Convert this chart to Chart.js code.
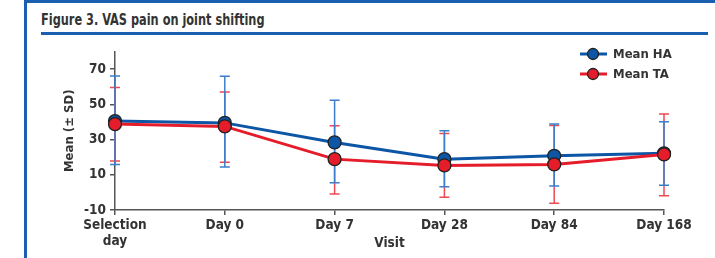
<!DOCTYPE html>
<html><head><meta charset="utf-8">
<script src="https://cdn.jsdelivr.net/npm/chart.js@4.4.1/dist/chart.umd.min.js"></script>
<style>
html,body{margin:0;padding:0;background:#fff;width:715px;height:258px;overflow:hidden;position:relative;}
#lborder{position:absolute;left:24px;top:0;width:2.5px;height:258px;background:#1b5fb0;}
#tborder{position:absolute;left:24px;top:0;width:691px;height:2.5px;background:#1b5fb0;}
#title{position:absolute;left:41px;top:11px;font-family:"Liberation Sans Narrow","DejaVu Sans Condensed",sans-serif;font-weight:bold;font-size:15px;color:#333;transform:scaleX(0.84);transform-origin:left top;white-space:nowrap;}
#uline{position:absolute;left:41px;top:32px;width:667px;height:2.5px;background:#1b5fb0;}
#wrap{position:absolute;left:30px;top:36px;width:685px;height:222px;}
</style></head><body>
<div id="lborder"></div><div id="tborder"></div>
<div id="title">Figure 3. VAS pain on joint shifting</div>
<div id="uline"></div>
<div id="wrap"><canvas id="c" width="685" height="222"></canvas></div>
<script>
const categories = [["Selection","day"], "Day 0", "Day 7", "Day 28", "Day 84", "Day 168"];
const haMean = [40.5, 39.5, 28.4, 18.9, 20.8, 22.2];
const haHigh = [66.2, 66.0, 52.4, 35.0, 38.8, 40.1];
const haLow  = [15.9, 14.4, 5.5, 3.2, 3.6, 4.0];
const taMean = [38.8, 37.5, 18.9, 15.3, 15.9, 21.6];
const taHigh = [59.6, 57.0, 37.8, 33.5, 38.0, 44.6];
const taLow  = [17.8, 17.2, -0.9, -2.8, -6.2, -1.9];
const yTicks = [-10, 10, 30, 50, 70];

const FONT = '"Liberation Sans Narrow","DejaVu Sans Condensed",sans-serif';
const BLUE = '#0d55a5', RED = '#e51d2a';
const BLUE_E = '#3b7fcc', RED_E = '#ee4a52';

const errPlugin = {
  id: 'errbars',
  beforeDatasetsDraw(chart) {
    const ctx = chart.ctx, x = chart.scales.x, y = chart.scales.y;
    const sets = [[taLow, taHigh, RED_E], [haLow, haHigh, BLUE_E]];
    ctx.save();
    ctx.lineWidth = 1.5;
    sets.forEach(([lo, hi, col]) => {
      ctx.strokeStyle = col;
      lo.forEach((v, i) => {
        const px = x.getPixelForValue(i);
        const y1 = y.getPixelForValue(v), y2 = y.getPixelForValue(hi[i]);
        ctx.beginPath();
        ctx.moveTo(px, y1); ctx.lineTo(px, y2);
        ctx.moveTo(px - 5, y1); ctx.lineTo(px + 5, y1);
        ctx.moveTo(px - 5, y2); ctx.lineTo(px + 5, y2);
        ctx.stroke();
      });
    });
    ctx.restore();
  },
  afterDraw(chart) {
    const ctx = chart.ctx;
    const items = [['Mean HA', BLUE, 18], ['Mean TA', RED, 38]];
    ctx.save();
    items.forEach(([t, c, yy]) => {
      ctx.strokeStyle = c; ctx.lineWidth = 3;
      ctx.beginPath(); ctx.moveTo(550, yy); ctx.lineTo(577, yy); ctx.stroke();
      ctx.beginPath(); ctx.arc(563, yy, 5.5, 0, Math.PI * 2);
      ctx.fillStyle = c; ctx.fill();
      ctx.strokeStyle = '#222'; ctx.lineWidth = 1.3; ctx.stroke();
      ctx.fillStyle = '#333'; ctx.font = 'bold 13px ' + FONT;
      ctx.textBaseline = 'middle'; ctx.textAlign = 'left';
      ctx.fillText(t, 583, yy + 1);
    });
    ctx.restore();
  }
};

new Chart(document.getElementById('c'), {
  type: 'line',
  data: {
    labels: categories,
    datasets: [
      { label: 'Mean TA', data: taMean, borderColor: RED, backgroundColor: RED, borderWidth: 3,
        pointRadius: 6.5, pointBorderColor: '#222', pointBorderWidth: 1.3, pointBackgroundColor: RED, tension: 0, order: 1 },
      { label: 'Mean HA', data: haMean, borderColor: BLUE, backgroundColor: BLUE, borderWidth: 3,
        pointRadius: 6.5, pointBorderColor: '#222', pointBorderWidth: 1.3, pointBackgroundColor: BLUE, tension: 0, order: 2 }
    ]
  },
  options: {
    responsive: false, animation: false,
    layout: { padding: { left: 0, right: 51, top: 15.6, bottom: 0 } },
    plugins: { legend: { display: false }, tooltip: { enabled: false } },
    scales: {
      x: {
        offset: false,
        grid: { display: true, drawOnChartArea: false, drawTicks: true, tickLength: 5, color: '#555', lineWidth: 1.5, offset: false },
        border: { display: true, color: '#555', width: 1.5 },
        ticks: { color: '#333', font: { family: FONT, size: 13.5, weight: 'bold', lineHeight: 1.15 }, padding: 3, maxRotation: 0, autoSkip: false },
        title: { display: true, text: 'Visit', color: '#333', font: { family: FONT, size: 13.5, weight: 'bold' }, padding: { top: 0, bottom: 6 } },
        afterFit(s) { s.height = 48; }
      },
      y: {
        min: -10, max: 80,
        afterBuildTicks(s) { s.ticks = yTicks.map(v => ({ value: v })); },
        grid: { display: true, drawOnChartArea: false, drawTicks: true, tickLength: 5, color: '#555', lineWidth: 1.5 },
        border: { display: true, color: '#555', width: 1.5 },
        ticks: { color: '#333', font: { family: FONT, size: 13.5, weight: 'bold' }, padding: 4 },
        title: { display: true, text: 'Mean (± SD)', color: '#333', font: { family: FONT, size: 13, weight: 'bold' }, padding: { top: 32, bottom: 0 } },
        afterFit(s) { s.width = 85; }
      }
    }
  },
  plugins: [errPlugin]
});
</script>
</body></html>
